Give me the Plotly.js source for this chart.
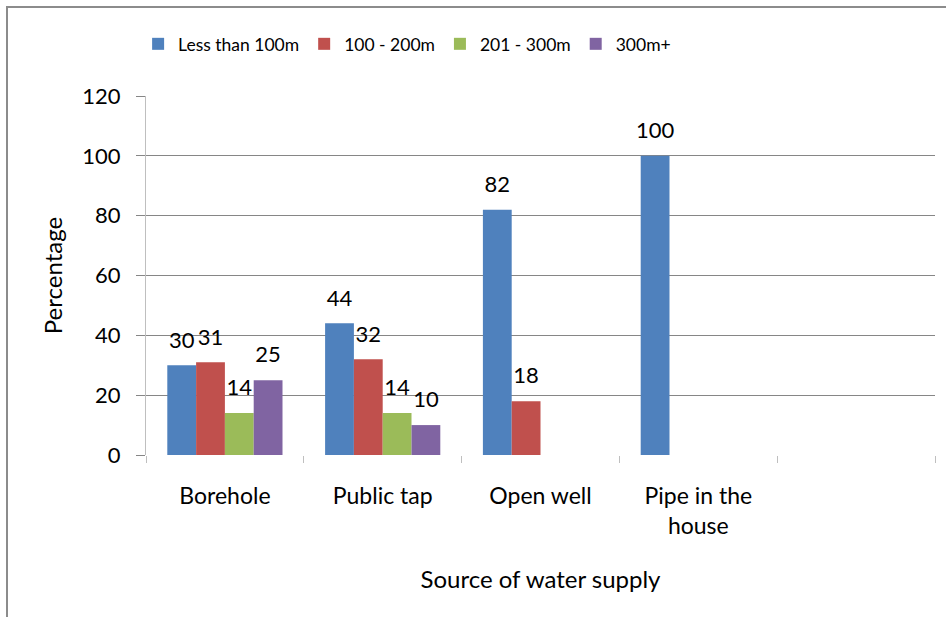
<!DOCTYPE html>
<html>
<head>
<meta charset="utf-8">
<script src="https://cdn.plot.ly/plotly-3.0.1.min.js"></script>
<style>
html,body{margin:0;padding:0;background:#fff;}
#frame{position:absolute;left:6px;top:6px;width:960px;height:640px;border-left:2px solid #8c8c8c;border-top:2px solid #8c8c8c;}
#chart{position:absolute;left:0;top:0;width:946px;height:617px;}
</style>
</head>
<body>
<div id="frame"></div>
<div id="chart"></div>
<script>
var categories = ["Borehole", "Public tap", "Open well", "Pipe in the<br>house", " "];
var seriesNames = ["Less than 100m", "100 - 200m", "201 - 300m", "300m+"];
var lessThan100 = [30, 44, 82, 100, null];
var from100to200 = [31, 32, 18, null, null];
var from201to300 = [14, 14, null, null, null];
var over300 = [25, 10, null, null, null];
var colors = ["#4F81BD", "#C0504D", "#9BBB59", "#8064A2"];
var yTicks = [0, 20, 40, 60, 80, 100, 120];

var font = "Lato, 'Open Sans', sans-serif";
var allSeries = [lessThan100, from100to200, from201to300, over300];
var traces = [];
allSeries.forEach(function (vals, i) {
  traces.push({
    type: "bar",
    name: seriesNames[i],
    x: categories,
    y: vals,
    marker: {color: colors[i]},
    hoverinfo: "none"
  });
});
allSeries.forEach(function (vals, i) {
  traces.push({
    type: "scatter",
    mode: "markers+text",
    name: seriesNames[i] + " labels",
    showlegend: false,
    x: categories,
    y: vals,
    marker: {size: 18, opacity: 0, color: colors[i]},
    text: vals.map(function (v) { return v === null ? "" : String(v); }),
    textposition: "top center",
    textfont: {family: font, size: 22, color: "#000"},
    cliponaxis: false,
    hoverinfo: "none"
  });
});

var layout = {
  width: 946,
  height: 617,
  paper_bgcolor: "rgba(0,0,0,0)",
  plot_bgcolor: "rgba(0,0,0,0)",
  margin: {l: 146, r: 11, t: 96, b: 162},
  barmode: "group",
  bargap: 0.27,
  bargroupgap: 0,
  scattermode: "group",
  scattergap: 0.27,
  font: {family: font, size: 19, color: "#000"},
  showlegend: true,
  legend: {
    orientation: "h",
    x: -0.01, xanchor: "left",
    y: 1.145, yanchor: "middle",
    font: {family: font, size: 17.5, color: "#000"},
    itemwidth: 30,
    traceorder: "normal"
  },
  xaxis: {
    type: "category",
    tickson: "boundaries",
    ticks: "outside",
    ticklen: 7,
    tickcolor: "#bfbfbf",
    tickwidth: 1,
    ticklabelstandoff: 25,
    showline: false,
    showgrid: false,
    zeroline: false,
    tickfont: {family: font, size: 23, color: "#000"},
    title: {text: "Source of water supply", font: {family: font, size: 24, color: "#000"}, standoff: 33}
  },
  yaxis: {
    range: [0, 120],
    tickvals: yTicks,
    ticktext: yTicks.map(String),
    ticks: "outside",
    ticklen: 9,
    tickcolor: "#868686",
    tickwidth: 1,
    ticklabelstandoff: 11,
    showline: true,
    linecolor: "#bfbfbf",
    linewidth: 1,
    showgrid: true,
    gridcolor: "#868686",
    gridwidth: 1,
    zeroline: false,
    tickfont: {family: font, size: 22, color: "#000"},
    title: {text: "Percentage", font: {family: font, size: 24, color: "#000"}, standoff: 12}
  }
};

Plotly.newPlot("chart", traces, layout, {displayModeBar: false, staticPlot: true});
</script>
</body>
</html>
